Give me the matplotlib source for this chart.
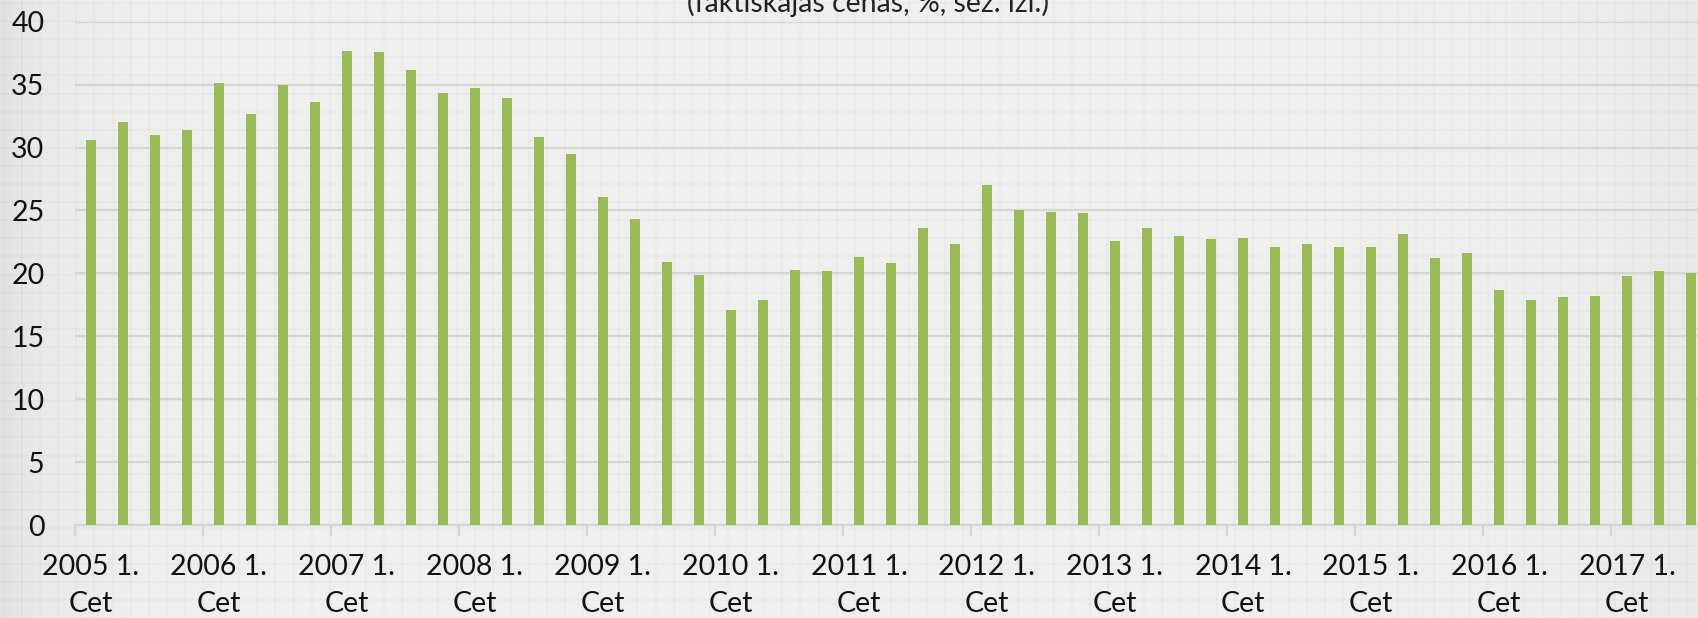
import numpy as np
import matplotlib.pyplot as plt

plt.rcParams['font.family'] = ['Lato', 'DejaVu Sans']

# quarterly values, 2005 Q1 .. 2017 Q3
years = list(range(2005, 2018))
share = [30.6, 32.0, 31.0, 31.4,
         35.1, 32.7, 35.0, 33.6,
         37.7, 37.6, 36.2, 34.3,
         34.7, 33.9, 30.8, 29.5,
         26.1, 24.3, 20.9, 19.9,
         17.1, 17.9, 20.3, 20.2,
         21.3, 20.8, 23.6, 22.3,
         27.0, 25.0, 24.9, 24.8,
         22.6, 23.6, 23.0, 22.7,
         22.8, 22.1, 22.3, 22.1,
         22.1, 23.1, 21.2, 21.6,
         18.7, 17.9, 18.1, 18.2,
         19.8, 20.2, 20.0]
tick_labels = [f"{y} 1.\nCet" for y in years]
title = "(faktiskajās cenās, %, sez. izl.)"

W, H = 1698, 618
fig = plt.figure(figsize=(W / 100, H / 100), dpi=100)

# slide background: light grey with faint square pattern and darker edges
bg = fig.add_axes([0, 0, 1, 1], zorder=-5)
xs = np.linspace(0, 1, W)
shade = 0.935 - 0.05 * np.exp(-xs * W / 60) - 0.025 * np.exp(-(1 - xs) * W / 120)
img = np.tile(shade, (H, 1))
bg.imshow(img, cmap='gray', vmin=0, vmax=1, extent=[0, W, H, 0], aspect='auto')
for gx in np.arange(4, W, 18.1):
    bg.axvline(gx, color='#000000', alpha=0.025, lw=1.2)
for gy in np.arange(3, H, 18.1):
    bg.axhline(gy, color='#000000', alpha=0.025, lw=1.2)
bg.set_xlim(0, W)
bg.set_ylim(H, 0)
bg.axis('off')

ax = fig.add_axes([75 / W, 93 / H, 1664 / W, 503.3 / H])
ax.patch.set_alpha(0)
x = np.arange(len(share))
ax.bar(x, share, width=0.32, color='#9bbb59', zorder=3)

ax.set_xlim(-0.5, 51.5)
ax.set_ylim(0, 40)
ax.set_yticks(range(0, 41, 5))
ax.yaxis.grid(True, color='#d6d6d6', lw=1.6, zorder=0)
ax.set_axisbelow(True)
for s in ['top', 'right', 'left']:
    ax.spines[s].set_visible(False)
ax.spines['bottom'].set_color('#d6d6d6')
ax.spines['bottom'].set_linewidth(1.6)

ax.set_xticks(np.arange(0, 52, 4))
ax.set_xticklabels(tick_labels, linespacing=1.5)
ax.set_xticks(np.arange(-0.5, 52, 4), minor=True)
ax.tick_params(axis='x', which='major', length=0, pad=21, labelsize=20.5, colors='#111111')
ax.tick_params(axis='x', which='minor', length=8, width=1.6, color='#d6d6d6')
ax.tick_params(axis='y', length=0, pad=22, labelsize=20.5, colors='#111111')

# title sits partly above the figure edge, as in the source slide
fig.text(868 / W, 1 - 12 / H, title, ha='center', va='baseline', fontsize=20.5, color='#222222')

fig.savefig('out.png', dpi=100)
